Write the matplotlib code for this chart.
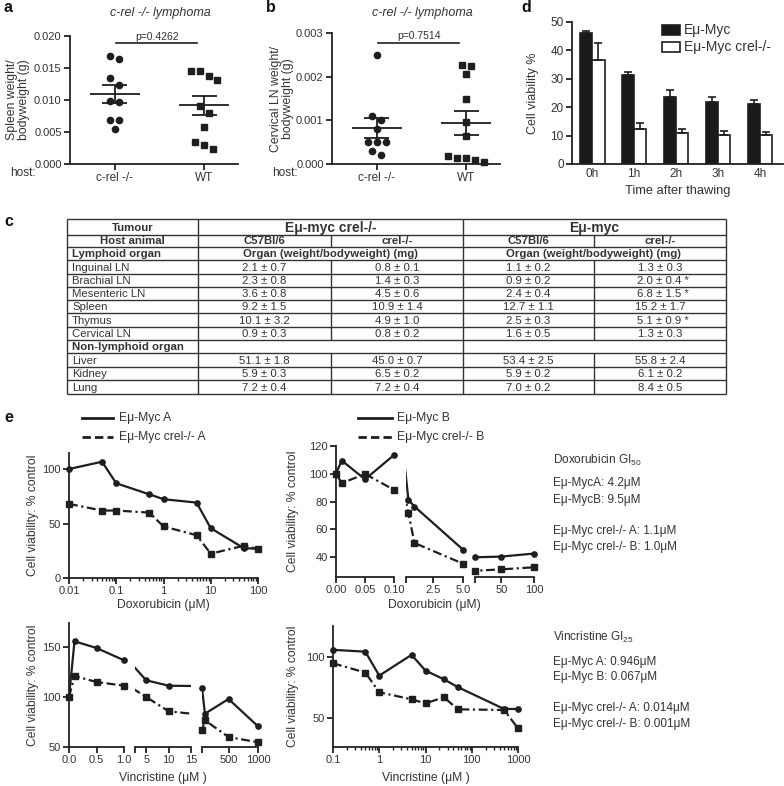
import numpy as np
import matplotlib.pyplot as plt
from matplotlib.patches import Rectangle
from matplotlib.ticker import FormatStrFormatter, NullFormatter

plt.rcParams['font.family'] = ['Liberation Sans', 'DejaVu Sans']
plt.rcParams['mathtext.fontset'] = 'custom'
plt.rcParams['mathtext.rm'] = 'Liberation Sans'
plt.rcParams['font.size'] = 8
plt.rcParams['axes.linewidth'] = 1.3
plt.rcParams['axes.edgecolor'] = '#222222'
for a in ['xtick', 'ytick']:
    plt.rcParams[a + '.major.width'] = 1.3
    plt.rcParams[a + '.major.size'] = 4
    plt.rcParams[a + '.minor.width'] = 1.0
    plt.rcParams[a + '.minor.size'] = 2.5
    plt.rcParams[a + '.major.pad'] = 2
    plt.rcParams[a + '.labelsize'] = 8
    plt.rcParams[a + '.color'] = '#222222'
    plt.rcParams[a + '.labelcolor'] = '#333333'

W, H = 784, 786
INK = '#1e1e1e'
TXT = '#333333'
DASHDOT = (0, (4, 1.6, 1, 1.6))

# ---------------- data ----------------
hosts = ['c-rel -/-', 'WT']
# a: spleen weight / bodyweight (g)
spleen_crel = [0.0164, 0.0169, 0.0134, 0.0124, 0.0097, 0.0099, 0.0069, 0.0069, 0.0054]
spleen_wt = [0.0145, 0.0146, 0.0132, 0.0137, 0.0090, 0.0080, 0.0058, 0.0035, 0.0030, 0.0023]
spleen_mean = [0.0109, 0.0092]
spleen_sem = [0.0014, 0.0015]
# b: cervical LN weight / bodyweight (g)
cln_crel = [0.0025, 0.0011, 0.0010, 0.0008, 0.0005, 0.0005, 0.0005, 0.0003, 0.0002]
cln_wt = [0.00227, 0.00225, 0.00207, 0.00148, 0.00097, 0.00063, 0.00018, 0.00013, 0.00005, 0.00010, 0.00013]
cln_mean = [0.00082, 0.00094]
cln_sem = [0.00023, 0.00028]

# d: cell viability after thawing
times = ['0h', '1h', '2h', '3h', '4h']
via_myc = [46.1, 31.3, 23.7, 21.7, 21.0]
via_myc_err = [0.6, 1.1, 2.3, 2.0, 1.7]
via_crel = [36.5, 12.3, 10.8, 10.3, 10.3]
via_crel_err = [6.1, 2.0, 1.4, 1.2, 1.1]

# c: organ weights (mg)
lymphoid = ['Inguinal LN', 'Brachial LN', 'Mesenteric LN', 'Spleen', 'Thymus', 'Cervical LN']
nonlymphoid = ['Liver', 'Kidney', 'Lung']
crel_b6_m = [2.1, 2.3, 3.6, 9.2, 10.1, 0.9, 51.1, 5.9, 7.2]
crel_b6_e = [0.7, 0.8, 0.8, 1.5, 3.2, 0.3, 1.8, 0.3, 0.4]
crel_ko_m = [0.8, 1.4, 4.5, 10.9, 4.9, 0.8, 45.0, 6.5, 7.2]
crel_ko_e = [0.1, 0.3, 0.6, 1.4, 1.0, 0.2, 0.7, 0.2, 0.4]
myc_b6_m = [1.1, 0.9, 2.4, 12.7, 2.5, 1.6, 53.4, 5.9, 7.0]
myc_b6_e = [0.2, 0.2, 0.4, 1.1, 0.3, 0.5, 2.5, 0.2, 0.2]
myc_ko_m = [1.3, 2.0, 6.8, 15.2, 5.1, 1.3, 55.8, 6.1, 8.4]
myc_ko_e = [0.3, 0.4, 1.5, 1.7, 0.9, 0.3, 2.4, 0.2, 0.5]
myc_ko_sig = [False, True, True, False, True, False, False, False, False]

# e: doxorubicin
dox_a_x = [0.01, 0.05, 0.1, 0.5, 1, 5, 10, 50, 100]
dox_myc_a = [100, 106.7, 86.9, 76.8, 72.3, 69.2, 45.7, 27.4, 26.8]
dox_crel_a = [68, 61.9, 61.9, 60, 47.3, 39.3, 22.3, 29.6, 26.5]
dox_b_x = [0, 0.01, 0.05, 0.1, 0.5, 1, 5, 10, 50, 100]
dox_myc_b = [100.4, 109.5, 96, 113.5, 81.2, 76.4, 45.3, 39.8, 40.3, 42.5]
dox_crel_b = [100, 93.2, 99.9, 88.4, 71.6, 50.1, 35.2, 30.1, 31.1, 32.6]
# e: vincristine
vin_a_x = [0, 0.1, 0.5, 1, 5, 10, 50, 100, 500, 1000]
vin_myc_a = [100, 155.7, 149, 136.7, 116.7, 111.3, 109, 83.3, 98, 70.7]
vin_crel_a = [100, 121, 115, 111.3, 100, 85.7, 66.7, 76.7, 60, 54.7]
vin_b_x = [0.1, 0.5, 1, 5, 10, 25, 50, 500, 1000]
vin_myc_b = [105.5, 104, 84.4, 101.4, 88.5, 81.4, 75, 57.1, 57.1]
vin_crel_b = [94.5, 86.9, 70.8, 65, 61.7, 66.7, 56.8, 56.3, 41.3]

dox_gi = [('Eμ-MycA', '4.2'), ('Eμ-MycB', '9.5'), ('Eμ-Myc crel-/- A', '1.1'), ('Eμ-Myc crel-/- B', '1.0')]
vin_gi = [('Eμ-Myc A', '0.946'), ('Eμ-Myc B', '0.067'), ('Eμ-Myc crel-/- A', '0.014'), ('Eμ-Myc crel-/- B', '0.001')]


def rect(x0, y0, x1, y1):
    return [x0 / W, 1 - y1 / H, (x1 - x0) / W, (y1 - y0) / H]


def style(ax, left=True):
    ax.spines['top'].set_visible(False)
    ax.spines['right'].set_visible(False)
    if not left:
        ax.spines['left'].set_visible(False)
        ax.tick_params(axis='y', left=False, labelleft=False)
    ax.patch.set_alpha(0)


def swarm(vals, ppu, thr=7, step=0.1):
    order = np.argsort(vals)[::-1]
    offs = np.zeros(len(vals))
    groups, g = [], [order[0]]
    for i in order[1:]:
        if (vals[g[-1]] - vals[i]) * ppu < thr:
            g.append(i)
        else:
            groups.append(g)
            g = [i]
    groups.append(g)
    for g in groups:
        for k, i in enumerate(g):
            offs[i] = (k - (len(g) - 1) / 2) * step
    return offs


fig = plt.figure(figsize=(W / 100, H / 100), dpi=100)
ov = fig.add_axes([0, 0, 1, 1])
ov.set_xlim(0, W)
ov.set_ylim(H, 0)
ov.axis('off')


def dot_panel(x0, top, ymax, step, groups, means, sems, pval, p_y, ylabel, yl_x):
    ax = fig.add_axes(rect(x0, top, x0 + 168, 164))
    style(ax)
    ppu = (164 - top) / ymax
    for i, vals in enumerate(groups):
        vals = np.array(vals)
        off = swarm(vals, ppu)
        ax.plot(i + off, vals, ls='none', marker='o' if i == 0 else 's', ms=4.5,
                color=INK, clip_on=False)
        ax.hlines(means[i], i - 0.28, i + 0.28, color=INK, lw=1.3)
        ax.hlines([means[i] - sems[i], means[i] + sems[i]], i - 0.14, i + 0.14, color=INK, lw=1.3)
        ax.vlines(i, means[i] - sems[i], means[i] + sems[i], color=INK, lw=1.3)
    ax.set_xlim(-0.5, 1.38)
    ax.set_ylim(0, ymax)
    ax.set_yticks(np.arange(0, ymax + step / 2, step))
    ax.yaxis.set_major_formatter(FormatStrFormatter('%.3f'))
    ax.set_xticks([0, 1], hosts)
    ax.tick_params(axis='x', labelsize=8.5)
    ax.plot([0.02, 0.92], [p_y, p_y], color=INK, lw=1.2, clip_on=False)
    ax.text(0.47, p_y + ymax * 0.012, pval, ha='center', va='bottom', fontsize=7.5, color=TXT)
    ov.text(yl_x, (top + 164) / 2, ylabel, rotation=90, ha='center', va='center',
            fontsize=8.8, color=TXT, linespacing=1.1)
    ov.text(x0 - 60, 173, 'host:', ha='left', va='center', fontsize=8.5, color=TXT)
    ov.text(x0 + 90, 13, 'c-rel -/- lymphoma', ha='center', va='center', fontsize=9,
            style='italic', color=TXT)
    return ax


dot_panel(70, 36, 0.020, 0.005, [spleen_crel, spleen_wt], spleen_mean, spleen_sem,
          'p=0.4262', 0.0189, 'Spleen weight/\nbodyweight (g)', 18)
dot_panel(332, 33, 0.003, 0.001, [cln_crel, cln_wt], cln_mean, cln_sem,
          'p=0.7514', 0.00277, 'Cervical LN weight/\nbodyweight (g)', 282)

# ---- d ----
axd = fig.add_axes(rect(572, 22, 783, 164))
style(axd)
xd = np.arange(len(times))
axd.bar(xd - 0.15, via_myc, 0.29, color='#1a1a1a', edgecolor=INK, lw=1.2)
axd.bar(xd + 0.15, via_crel, 0.29, color='white', edgecolor=INK, lw=1.2)
axd.errorbar(xd - 0.15, via_myc, yerr=[np.zeros(5), via_myc_err], fmt='none', ecolor=INK,
             capsize=3, elinewidth=1.2, capthick=1.2)
axd.errorbar(xd + 0.15, via_crel, yerr=[np.zeros(5), via_crel_err], fmt='none', ecolor=INK,
             capsize=3, elinewidth=1.2, capthick=1.2)
axd.set_xlim(-0.48, 4.55)
axd.set_ylim(0, 50)
axd.set_yticks(np.arange(0, 51, 10))
axd.set_xticks(xd, times)
axd.tick_params(labelsize=8.5)
axd.tick_params(axis='x', length=0, pad=3)
ov.text(533, 93, 'Cell viability %', rotation=90, ha='center', va='center', fontsize=9, color=TXT)
ov.text(678, 191, 'Time after thawing', ha='center', va='center', fontsize=9.3, color=TXT)
ov.add_patch(Rectangle((662, 25), 18, 10, facecolor='#1a1a1a', edgecolor=INK, lw=1.2))
ov.add_patch(Rectangle((662, 42), 18, 10, facecolor='white', edgecolor=INK, lw=1.2))
ov.text(684, 30, 'Eμ-Myc', va='center', fontsize=10, color=TXT)
ov.text(684, 47, 'Eμ-Myc crel-/-', va='center', fontsize=10, color=TXT)

# ---- c: table ----
col_x = [67, 198, 331, 463, 594, 726]
row_y = [219, 235, 246.7, 260, 274, 286.7, 300, 313.3, 326.7, 340, 353.3, 366.7, 380, 394]
lkw = dict(color='#333333', lw=1.0)
ov.hlines(row_y, col_x[0], col_x[-1], **lkw)
ov.vlines([col_x[0], col_x[1], col_x[3], col_x[5]], row_y[0], row_y[-1], **lkw)
for yy0, yy1 in [(row_y[1], row_y[2]), (row_y[3], row_y[9]), (row_y[10], row_y[13])]:
    ov.vlines([col_x[2], col_x[4]], yy0, yy1, **lkw)

rb = [row_y[i + 1] - 2.8 for i in range(len(row_y) - 1)]   # text baselines
cc = [(col_x[i] + col_x[i + 1]) / 2 for i in range(len(col_x) - 1)]
TFS = 8.2
tk = dict(ha='center', va='baseline', color=TXT, fontsize=TFS)
tl = dict(ha='left', va='baseline', color=TXT, fontsize=TFS)
ov.text(cc[0], rb[0] - 1, 'Tumour', fontweight='bold', **tk)
ov.text(col_x[2], rb[0], 'Eμ-myc crel-/-', fontweight='bold', ha='center', va='baseline', color=TXT, fontsize=10)
ov.text(col_x[4], rb[0], 'Eμ-myc', fontweight='bold', ha='center', va='baseline', color=TXT, fontsize=10)
ov.text(cc[0], rb[1] + 0.5, 'Host animal', fontweight='bold', **tk)
for j, lab in enumerate(['C57Bl/6', 'crel-/-', 'C57Bl/6', 'crel-/-']):
    ov.text(cc[j + 1], rb[1] + 0.5, lab, fontweight='bold', **tk)
ov.text(72, rb[2], 'Lymphoid organ', fontweight='bold', **tl)
ov.text(col_x[2], rb[2], 'Organ (weight/bodyweight) (mg)', fontweight='bold', **tk)
ov.text(col_x[4], rb[2], 'Organ (weight/bodyweight) (mg)', fontweight='bold', **tk)
ov.text(72, rb[9], 'Non-lymphoid organ', fontweight='bold', **tl)
organ_rows = list(range(3, 9)) + [10, 11, 12]
organs = lymphoid + nonlymphoid
for k, r in enumerate(organ_rows):
    ov.text(72, rb[r], organs[k], **tl)
    ov.text(cc[1], rb[r], f'{crel_b6_m[k]:.1f} ± {crel_b6_e[k]:.1f}', **tk)
    ov.text(cc[2], rb[r], f'{crel_ko_m[k]:.1f} ± {crel_ko_e[k]:.1f}', **tk)
    ov.text(cc[3], rb[r], f'{myc_b6_m[k]:.1f} ± {myc_b6_e[k]:.1f}', **tk)
    star = ' *' if myc_ko_sig[k] else ''
    ov.text(cc[4] + (3 if star else 0), rb[r], f'{myc_ko_m[k]:.1f} ± {myc_ko_e[k]:.1f}{star}', **tk)

# ---- e ----
def draw_series(ax, x, y, solid, lo, hi, open_left=False):
    x = np.asarray(x, float)
    y = np.asarray(y, float)
    ax.plot(x, y, ls='-' if solid else DASHDOT, color=INK, lw=1.6)
    m = ((x > lo + 1e-9) if open_left else (x >= lo - 1e-9)) & (x <= hi + 1e-9)
    ax.plot(x[m], y[m], ls='none', marker='o' if solid else 's', ms=3.8, color=INK, clip_on=False)


def log_panel(box, xlim, ylim, yticks, xticks, xlabels, x, solid_y, dash_y):
    ax = fig.add_axes(rect(*box))
    style(ax)
    ax.set_xscale('log')
    draw_series(ax, x, dash_y, False, *xlim)
    draw_series(ax, x, solid_y, True, *xlim)
    ax.set_xlim(*xlim)
    ax.set_ylim(*ylim)
    ax.set_yticks(yticks)
    ax.set_xticks(xticks, xlabels)
    ax.xaxis.set_minor_formatter(NullFormatter())
    return ax


def broken_panel(top, bottom, ylim, yticks, segs, x, solid_y, dash_y):
    for k, (x0, x1, lim, ticks, labels, open_left) in enumerate(segs):
        ax = fig.add_axes(rect(x0, top, x1, bottom))
        style(ax, left=(k == 0))
        draw_series(ax, x, dash_y, False, *lim, open_left)
        draw_series(ax, x, solid_y, True, *lim, open_left)
        ax.set_xlim(*lim)
        ax.set_ylim(*ylim)
        if k == 0:
            ax.set_yticks(yticks)
        ax.set_xticks(ticks, labels)


log_panel((69, 453, 258, 578), (0.01, 100), (0, 114.7), [0, 50, 100],
          [0.01, 0.1, 1, 10, 100], ['0.01', '0.1', '1', '10', '100'],
          dox_a_x, dox_myc_a, dox_crel_a)
broken_panel(446, 577, (25.6, 120), [40, 60, 80, 100, 120],
             [(336, 394, (0, 0.1), [0, 0.05, 0.1], ['0.00', '0.05', '0.10'], False),
              (406, 463, (0.3, 5.0), [0.3, 2.5, 5.0], ['', '2.5', '5.0'], True),
              (475, 534, (10, 100), [10, 50, 100], ['', '50', '100'], False)],
             dox_b_x, dox_myc_b, dox_crel_b)
broken_panel(623, 747, (50, 174), [50, 100, 150],
             [(69, 124, (0, 1.0), [0, 0.5, 1.0], ['0.0', '0.5', '1.0'], False),
              (135, 191, (2.5, 15), [2.5, 5, 10, 15], ['', '5', '10', '15'], True),
              (202, 258, (50, 1000), [50, 500, 1000], ['', '500', '1000'], False)],
             vin_a_x, vin_myc_a, vin_crel_a)
log_panel((333, 626, 518, 747), (0.1, 1000), (26, 125), [50, 100],
          [0.1, 1, 10, 100, 1000], ['0.1', '1', '10', '100', '1000'],
          vin_b_x, vin_myc_b, vin_crel_b)

for xx, yy in [(33, 515), (293, 511), (33, 685), (293, 686)]:
    ov.text(xx, yy, 'Cell viability: % control', rotation=90, ha='center', va='center',
            fontsize=8.7, color=TXT)
ov.text(163, 605, 'Doxorubicin (μM)', ha='center', va='center', fontsize=8.7, color=TXT)
ov.text(434, 605, 'Doxorubicin (μM)', ha='center', va='center', fontsize=8.7, color=TXT)
ov.text(163, 778, 'Vincristine (μM )', ha='center', va='center', fontsize=8.7, color=TXT)
ov.text(426, 778, 'Vincristine (μM )', ha='center', va='center', fontsize=8.7, color=TXT)

# e legends
ov.plot([82, 113], [418, 418], color=INK, lw=2)
ov.plot([82, 113], [437, 437], color=INK, lw=2, ls=(0, (3, 1.5)))
ov.text(119, 418, 'Eμ-Myc A', va='center', fontsize=8.7, color=TXT)
ov.text(119, 437, 'Eμ-Myc crel-/- A', va='center', fontsize=8.7, color=TXT)
ov.plot([358, 392], [418, 418], color=INK, lw=2)
ov.plot([358, 392], [437, 437], color=INK, lw=2, ls=(0, (3, 1.5)))
ov.text(397, 418, 'Eμ-Myc B', va='center', fontsize=8.7, color=TXT)
ov.text(397, 437, 'Eμ-Myc crel-/- B', va='center', fontsize=8.7, color=TXT)

# GI annotations
ov.text(553, 460, r'Doxorubicin GI$_{\mathregular{50}}$', va='center', fontsize=8.5, color=TXT)
for (name, val), yy in zip(dox_gi, [483, 500, 531, 547]):
    ov.text(553, yy, f'{name}: {val}μM', va='center', fontsize=8.5, color=TXT)
ov.text(553, 637, r'Vincristine GI$_{\mathregular{25}}$', va='center', fontsize=8.5, color=TXT)
for (name, val), yy in zip(vin_gi, [662, 677, 708, 724]):
    ov.text(553, yy, f'{name}: {val}μM', va='center', fontsize=8.5, color=TXT)

# panel letters
for lab, xx, yy in [('a', 4, 8), ('b', 266, 8), ('d', 521, 8), ('c', 4, 222), ('e', 4, 418)]:
    ov.text(xx, yy, lab, fontsize=11.5, fontweight='bold', va='center', ha='left', color='#111111')

fig.savefig('out.png', dpi=100)
